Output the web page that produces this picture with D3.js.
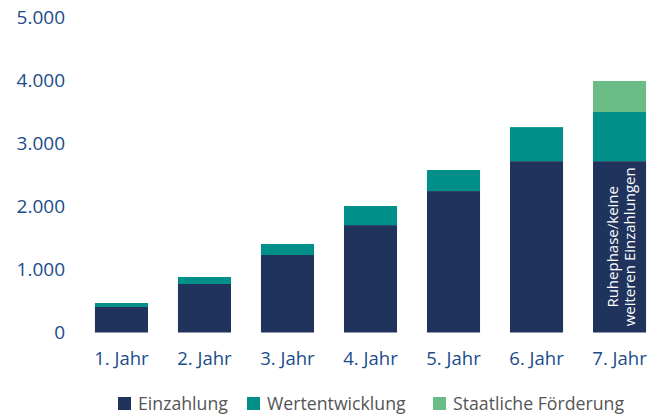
<!DOCTYPE html>
<html>
    <head>
        <script src="https://cdnjs.cloudflare.com/ajax/libs/d3/7.8.5/d3.min.js"></script>
        <title>Einzahlungen</title>
        <style>
            html, body {
                margin: 0;
                background: #fff;
            }
            .svg_canvas {
                display: block;
                font-family: "Open Sans", "Noto Sans", sans-serif;
            }
        </style>
    </head>
    <body>
        <svg height="415" width="652" class="svg_canvas"></svg>

        <script>
            var years = ["1. Jahr","2. Jahr","3. Jahr","4. Jahr","5. Jahr","6. Jahr","7. Jahr"];
            var einzahlung = [405, 770, 1230, 1705, 2245, 2720, 2720];
            var wertentwicklung = [63, 111, 175, 303, 334, 540, 780];
            var foerderung = [0, 0, 0, 0, 0, 0, 492];
            var seriesNames = ["Einzahlung","Wertentwicklung","Staatliche Förderung"];
            var seriesColors = ["#1f335c","#009089","#6abc86"];
            var yTicks = [0, 1000, 2000, 3000, 4000, 5000];

            var rows = years.map(function(y, i){
                return {year: y, "Einzahlung": einzahlung[i], "Wertentwicklung": wertentwicklung[i], "Staatliche Förderung": foerderung[i]};
            });

            var stack = d3.stack().keys(seriesNames)(rows);

            var x = d3.scaleBand()
                .domain(years)
                .range([80, 661])
                .paddingInner(0.361)
                .paddingOuter(0.18);

            var y = d3.scaleLinear()
                .domain([0, 5000])
                .range([332.5, 17.5]);

            var de = d3.formatLocale({decimal: ",", thousands: ".", grouping: [3], currency: ["", " €"]});
            var fmt = de.format(",");

            var svg = d3.select(".svg_canvas");

            // y labels
            svg.append("g")
                .selectAll("text")
                .data(yTicks)
                .enter()
                .append("text")
                .attr("x", 65)
                .attr("y", function(d){ return y(d); })
                .attr("dy", "0.36em")
                .attr("text-anchor", "end")
                .style("font-size", "19px")
                .style("fill", "#1a4c8a")
                .text(function(d){ return fmt(d); });

            // bars
            svg.append("g")
                .selectAll("g")
                .data(stack)
                .enter()
                .append("g")
                .style("fill", function(d, i){ return seriesColors[i]; })
                .selectAll("rect")
                .data(function(d){ return d; })
                .enter()
                .append("rect")
                .attr("x", function(d){ return x(d.data.year); })
                .attr("width", x.bandwidth())
                .attr("y", function(d){ return y(d[1]); })
                .attr("height", function(d){ return y(d[0]) - y(d[1]); });

            // x labels
            svg.append("g")
                .selectAll("text")
                .data(years)
                .enter()
                .append("text")
                .attr("x", function(d){ return x(d) + x.bandwidth() / 2; })
                .attr("y", 358)
                .attr("dy", "0.36em")
                .attr("text-anchor", "middle")
                .style("font-size", "18.5px")
                .style("fill", "#1a4c8a")
                .text(function(d){ return d; });

            // note in last bar
            var last = years[years.length - 1];
            var note = svg.append("text")
                .attr("transform", "translate(" + (x(last) + x.bandwidth() / 2) + "," + y(einzahlung[6] / 2) + ") rotate(-90)")
                .attr("text-anchor", "middle")
                .style("font-size", "15px")
                .style("fill", "#fff");
            note.append("tspan").attr("x", 0).attr("y", -2).text("Ruhephase/keine");
            note.append("tspan").attr("x", 0).attr("y", 15).text("weiteren Einzahlungen");

            // legend
            var legendX = [118, 247, 433];
            var legend = svg.append("g")
                .selectAll("g")
                .data(seriesNames)
                .enter()
                .append("g")
                .attr("transform", function(d, i){ return "translate(" + legendX[i] + ",397)"; });
            legend.append("rect")
                .attr("width", 13)
                .attr("height", 13)
                .style("fill", function(d, i){ return seriesColors[i]; });
            legend.append("text")
                .attr("x", 20)
                .attr("y", 6.5)
                .attr("dy", "0.36em")
                .style("font-size", "17.7px")
                .style("fill", "#555")
                .text(function(d){ return d; });
        </script>
    </body>
</html>
